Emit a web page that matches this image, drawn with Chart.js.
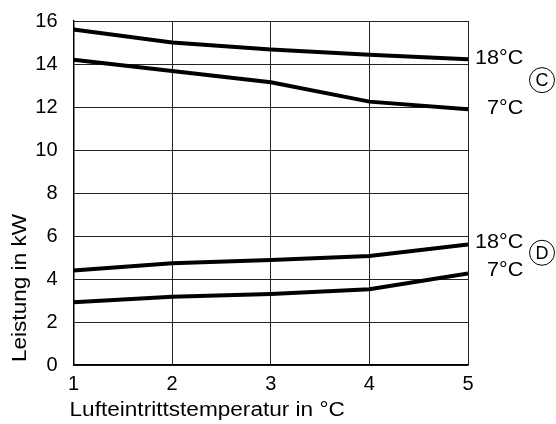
<!DOCTYPE html>
<html>
<head>
<meta charset="utf-8">
<script src="https://cdn.jsdelivr.net/npm/chart.js@4/dist/chart.umd.min.js"></script>
<style>
    html, body { margin: 0; padding: 0; background: #fff; }
    #wrap { width: 556px; height: 424px; }
</style>
</head>
<body>
<div id="wrap"><canvas id="c" width="556" height="424"></canvas></div>
<script>
// === Daten ===
const airTemps = [1, 2, 3, 4, 5];                 // Lufteintrittstemperatur in °C
const powerC18 = [15.6, 15.0, 14.67, 14.43, 14.22]; // Kurve C, 18°C
const powerC7  = [14.2, 13.67, 13.15, 12.25, 11.9]; // Kurve C, 7°C
const powerD18 = [4.39, 4.73, 4.88, 5.07, 5.61];    // Kurve D, 18°C
const powerD7  = [2.92, 3.18, 3.3, 3.52, 4.26];     // Kurve D, 7°C
const yTicks = [0, 2, 4, 6, 8, 10, 12, 14, 16];

const xTitle = 'Lufteintrittstemperatur in °C';
const yTitle = 'Leistung in kW';
const curveLabels = ['18°C', '7°C', '18°C', '7°C'];
const groupLetters = ['C', 'D'];

const FONT = '"Liberation Sans", Arial, sans-serif';

function toPoints(values) {
    return airTemps.map((t, i) => ({ x: t, y: values[i] }));
}

// Text mit leichter horizontaler Dehnung (wie im Original)
function wideText(ctx, text, x, y, stretch) {
    ctx.save();
    ctx.translate(x, y);
    ctx.scale(stretch, 1);
    ctx.fillText(text, 0, 0);
    ctx.restore();
}

// === Beschriftungen (Achsentitel, Kurvenbezeichnungen, Kreise) ===
const labelPlugin = {
    id: 'labels',
    afterDraw(chart) {
        const ctx = chart.ctx;
        const area = chart.chartArea;
        const yS = chart.scales.y;
        ctx.save();
        ctx.fillStyle = '#000';
        ctx.strokeStyle = '#000';

        // x-Achsentitel
        ctx.font = '20px ' + FONT;
        ctx.textAlign = 'left';
        ctx.textBaseline = 'middle';
        wideText(ctx, xTitle, area.left - 4, 410, 1.13);

        // y-Achsentitel
        ctx.save();
        ctx.translate(20, 288);
        ctx.rotate(-Math.PI / 2);
        ctx.textAlign = 'center';
        wideText(ctx, yTitle, 0, 0, 1.13);
        ctx.restore();

        // Kurvenbezeichnungen rechts
        ctx.font = '20px ' + FONT;
        ctx.textAlign = 'left';
        const x0 = area.right + 7;
        wideText(ctx, curveLabels[0], x0, yS.getPixelForValue(14.27), 1.08);
        wideText(ctx, curveLabels[1], x0 + 12, yS.getPixelForValue(11.94), 1.08);
        wideText(ctx, curveLabels[2], x0, yS.getPixelForValue(5.69), 1.08);
        wideText(ctx, curveLabels[3], x0 + 12, yS.getPixelForValue(4.38), 1.08);

        // Kreise mit Buchstaben
        const circles = [
            { letter: groupLetters[0], v: 13.25 },
            { letter: groupLetters[1], v: 5.22 }
        ];
        ctx.lineWidth = 1;
        ctx.font = '18px ' + FONT;
        ctx.textAlign = 'center';
        circles.forEach(c => {
            const cx = area.right + 74;
            const cy = yS.getPixelForValue(c.v);
            ctx.beginPath();
            ctx.arc(cx, cy, 12.5, 0, Math.PI * 2);
            ctx.stroke();
            ctx.fillText(c.letter, cx, cy + 1);
        });
        ctx.restore();
    }
};

const lineStyle = {
    borderColor: '#000',
    borderWidth: 4,
    pointRadius: 0,
    tension: 0,
    fill: false
};

new Chart(document.getElementById('c').getContext('2d'), {
    type: 'line',
    data: {
        datasets: [
            Object.assign({ label: 'C 18°C', data: toPoints(powerC18) }, lineStyle),
            Object.assign({ label: 'C 7°C', data: toPoints(powerC7) }, lineStyle),
            Object.assign({ label: 'D 18°C', data: toPoints(powerD18) }, lineStyle),
            Object.assign({ label: 'D 7°C', data: toPoints(powerD7) }, lineStyle)
        ]
    },
    options: {
        responsive: false,
        animation: false,
        layout: { padding: { top: 21, right: 88, left: 0, bottom: 0 } },
        plugins: {
            legend: { display: false },
            tooltip: { enabled: false }
        },
        scales: {
            x: {
                type: 'linear',
                min: 1,
                max: 5,
                afterFit: s => { s.height = 59; s.paddingLeft = 0; s.paddingRight = 0; },
                ticks: {
                    stepSize: 1,
                    color: '#000',
                    font: { size: 20, family: FONT },
                    padding: 7
                },
                grid: { color: '#222', lineWidth: 1, drawTicks: false },
                border: { color: '#000', width: 1.5 }
            },
            y: {
                min: 0,
                max: 16,
                afterFit: s => { s.width = 73.5; s.paddingTop = 0; s.paddingBottom = 0; },
                afterBuildTicks: s => { s.ticks = yTicks.map(v => ({ value: v })); },
                ticks: {
                    color: '#000',
                    font: { size: 20, family: FONT },
                    padding: 16
                },
                grid: { color: '#222', lineWidth: 1, drawTicks: false },
                border: { color: '#000', width: 1.5 }
            }
        }
    },
    plugins: [labelPlugin]
});
</script>
</body>
</html>
